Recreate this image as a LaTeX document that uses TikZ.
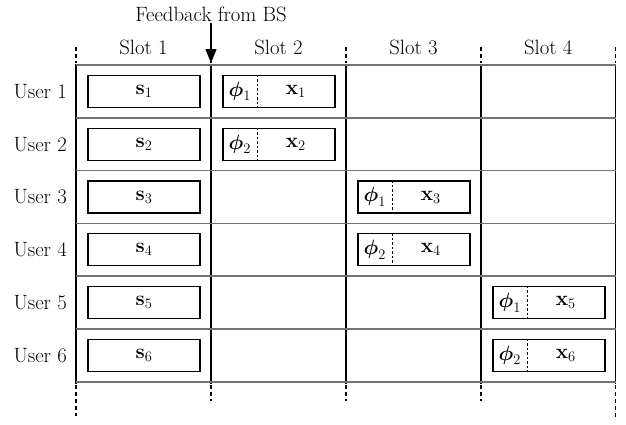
\RequirePackage{fix-cm}
\documentclass[tikz,border=0pt]{standalone}
\usepackage{amsmath,amssymb}
\usetikzlibrary{arrows.meta,calc}
\begin{document}
\begin{tikzpicture}[x=1pt,y=-1pt,
  font=\fontsize{20.7}{24}\selectfont,
  vline/.style={line width=1.7pt,black},
  hline/.style={line width=1.5pt,black!55},
  vdash/.style={line width=1.8pt,black,dash pattern=on 4pt off 3pt},
  cellbox/.style={draw,line width=1.3pt,minimum width=112pt,minimum height=32pt,inner sep=0pt},
  divider/.style={line width=0.9pt,dash pattern=on 2.5pt off 2pt},
  lbl/.style={inner sep=1pt}]
\useasboundingbox (0,0) rectangle (626,424);
% grid
\foreach \i/\x in {0/76,1/211,2/346,3/481,4/615.5}{
  \draw[vline] (\x,64.3) -- (\x,383.5);
  \draw[vdash] (\x,47) -- (\x,63);
}
\draw[vdash] (76,385) -- (76,416);
\draw[vdash] (211,385) -- (211,401);
\draw[vdash] (346,385) -- (346,401);
\draw[vdash] (481,385) -- (481,401);
\draw[vdash] (615.5,385) -- (615.5,420);
\foreach \k in {0,...,6}{
  \draw[hline] (76,{65+52.8*\k}) -- (615.5,{65+52.8*\k});
}
% slot labels
\foreach \i/\x in {1/143.5,2/278.5,3/413.5,4/548.2}{
  \node[lbl] (slot\i) at (\x,47) {Slot \i};
}
% user labels and s boxes
\foreach \r in {1,...,6}{
  \node[lbl,anchor=east] (user\r) at (68,{65+52.8*(\r-0.5)}) {User \r};
  \node[cellbox] (s\r) at (144,{65+52.8*(\r-0.5)}) {$\mathbf{s}_{\r}$};
}
% phi/x boxes
\foreach \r/\c/\p in {1/279/1,2/279/2,3/414/1,4/414/2,5/549/1,6/549/2}{
  \node[cellbox] (b\r) at (\c,{65+52.8*(\r-0.5)}) {};
  \draw[divider] ($(b\r.north west)+(35,0)$) -- ($(b\r.south west)+(35,0)$);
  \node[lbl] (phi\r) at ($(b\r.west)+(17.5,0)$) {$\boldsymbol{\phi}_{\p}$};
  \node[lbl] (x\r) at ($(b\r.west)+(73.5,0)$) {$\mathbf{x}_{\r}$};
}
% feedback
\node[lbl] (fb) at (211,14) {Feedback from BS};
\coordinate (fbend) at (211,63);
\draw[line width=1.4pt,-{Triangle[width=11pt,length=14pt]}] (fb.south) -- (fbend);
\end{tikzpicture}
\end{document}
